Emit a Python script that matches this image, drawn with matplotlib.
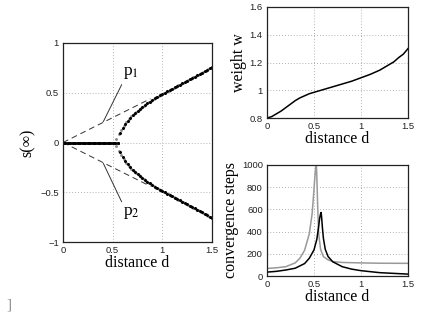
import matplotlib
matplotlib.use("Agg")
import matplotlib.pyplot as plt
import numpy as np

# ---- left panel: bifurcation s(inf) vs distance d ----
d_black = [0.0, 0.025, 0.05, 0.075, 0.1, 0.125, 0.15, 0.175, 0.2, 0.225, 0.25, 0.275,
           0.3, 0.325, 0.35, 0.375, 0.4, 0.425, 0.45, 0.475, 0.5, 0.525, 0.55,
           0.575, 0.6, 0.625, 0.65, 0.675, 0.7, 0.725, 0.75, 0.775, 0.8, 0.825,
           0.85, 0.875, 0.9, 0.925, 0.95, 0.975, 1.0, 1.025, 1.05, 1.075, 1.1,
           1.125, 1.15, 1.175, 1.2, 1.225, 1.25, 1.275, 1.3, 1.325, 1.35, 1.375,
           1.4, 1.425, 1.45, 1.475, 1.5]
s_black = [0.0] * 23 + [0.10, 0.15, 0.19, 0.22, 0.25, 0.275, 0.30, 0.32, 0.34, 0.36,
                        0.38, 0.395, 0.41, 0.43, 0.445, 0.46, 0.475, 0.49, 0.50, 0.515,
                        0.53, 0.54, 0.555, 0.57, 0.58, 0.595, 0.61, 0.62, 0.635, 0.65,
                        0.66, 0.675, 0.69, 0.70, 0.715, 0.73, 0.745, 0.76]
d_gray = [0.0125, 0.0375, 0.0625, 0.0875, 0.1125, 0.1375, 0.1625, 0.1875, 0.2125,
          0.2375, 0.2625, 0.2875, 0.3125, 0.3375, 0.3625, 0.3875, 0.4125, 0.4375,
          0.4625, 0.4875, 0.5125, 0.5375, 0.5625, 0.5875, 0.6125, 0.6375, 0.6625,
          0.6875, 0.7125, 0.7375, 0.7625, 0.7875, 0.8125, 0.8375, 0.8625, 0.8875,
          0.9125, 0.9375, 0.9625, 0.9875, 1.0125, 1.0375, 1.0625, 1.0875, 1.1125,
          1.1375, 1.1625, 1.1875, 1.2125, 1.2375, 1.2625, 1.2875, 1.3125, 1.3375,
          1.3625, 1.3875, 1.4125, 1.4375, 1.4625, 1.4875]
s_gray = [0.0] * 21 + [0.04, 0.09, 0.13, 0.17, 0.205, 0.235, 0.265, 0.29, 0.31, 0.33,
                       0.35, 0.37, 0.39, 0.405, 0.42, 0.435, 0.455, 0.47, 0.48, 0.495,
                       0.51, 0.52, 0.535, 0.55, 0.56, 0.575, 0.59, 0.60, 0.615, 0.63,
                       0.64, 0.655, 0.67, 0.68, 0.695, 0.71, 0.72, 0.735, 0.75]
dash_d = [0.0, 0.88]
dash_s = [0.0, 0.44]

# ---- top right: weight w ----
w_d = [0.0, 0.05, 0.1, 0.15, 0.2, 0.25, 0.3, 0.35, 0.4, 0.45, 0.5, 0.6, 0.7, 0.75,
       0.8, 0.9, 1.0, 1.1, 1.2, 1.25, 1.3, 1.35, 1.4, 1.45, 1.5]
w_val = [0.80, 0.81, 0.83, 0.85, 0.875, 0.90, 0.925, 0.945, 0.96, 0.975, 0.985,
         1.005, 1.025, 1.035, 1.045, 1.065, 1.09, 1.115, 1.145, 1.165, 1.185,
         1.205, 1.235, 1.26, 1.30]

# ---- bottom right: convergence steps ----
c_gray_d = [0.0, 0.1, 0.2, 0.3, 0.35, 0.4, 0.45, 0.48, 0.5, 0.51, 0.52, 0.525, 0.53,
            0.54, 0.55, 0.57, 0.6, 0.65, 0.7, 0.8, 1.0, 1.2, 1.5]
c_gray = [68, 74, 84, 118, 160, 232, 380, 560, 780, 900, 985, 1000, 900, 600, 380,
          240, 175, 145, 130, 122, 118, 115, 114]
c_black_d = [0.0, 0.1, 0.2, 0.3, 0.4, 0.45, 0.5, 0.53, 0.55, 0.56, 0.57, 0.575,
             0.58, 0.59, 0.6, 0.62, 0.65, 0.7, 0.8, 0.9, 1.0, 1.2, 1.5]
c_black = [35, 42, 54, 70, 112, 160, 235, 330, 450, 520, 560, 572, 540, 430, 340,
           240, 175, 128, 84, 62, 48, 30, 17]

serif = ["Liberation Serif", "DejaVu Serif"]
sans = ["Liberation Sans", "DejaVu Sans"]
plt.rcParams["font.family"] = sans
plt.rcParams["mathtext.fontset"] = "stix"

W, H = 424, 317
fig = plt.figure(figsize=(W / 100, H / 100), dpi=100)

tick_fs = 6.8
lab_fs = 11.5


def style(ax):
    ax.grid(True, linestyle=(0, (1, 2.5)), color="#999999", linewidth=0.6)
    ax.tick_params(length=0, labelsize=tick_fs, pad=3, labelcolor="#222222")
    for sp in ax.spines.values():
        sp.set_linewidth(0.9)
        sp.set_color("#222222")
    ax.set_axisbelow(True)


# left
ax1 = fig.add_axes([63 / W, 1 - 242 / H, (212 - 63) / W, (242 - 43) / H])
style(ax1)
ax1.plot(dash_d, dash_s, linestyle=(0, (6, 4)), color="#333333", lw=0.7)
ax1.plot(dash_d, [-v for v in dash_s], linestyle=(0, (6, 4)), color="#333333", lw=0.7)
ax1.plot(d_gray, s_gray, "o", color="#8a8a8a", ms=2.1, mew=0)
ax1.plot(d_gray, [-v for v in s_gray], "o", color="#8a8a8a", ms=2.1, mew=0)
ax1.plot(d_black, s_black, "o", color="black", ms=2.2, mew=0)
ax1.plot(d_black, [-v for v in s_black], "o", color="black", ms=2.2, mew=0)
ax1.plot([0.406, 0.59], [0.21, 0.58], color="#333333", lw=0.7)
ax1.plot([0.406, 0.59], [-0.21, -0.595], color="#333333", lw=0.7)
ax1.text(0.6, 0.7, r"p$_1$", family=serif, fontsize=12.5, ha="left", va="center")
ax1.text(0.6, -0.71, r"p$_2$", family=serif, fontsize=12.5, ha="left", va="center")
ax1.set_xlim(0, 1.5)
ax1.set_ylim(-1, 1)
ax1.set_xticks([0, 0.5, 1, 1.5])
ax1.set_xticklabels(["0", "0.5", "1", "1.5"])
ax1.set_yticks([-1, -0.5, 0, 0.5, 1])
ax1.set_yticklabels(["\u22121", "\u22120.5", "0", "0.5", "1"])
ax1.set_xlabel("distance d", family=serif, fontsize=lab_fs, labelpad=0)
ax1.set_ylabel("s(\u221e)", family=serif, fontsize=lab_fs, labelpad=3)

# top right
ax2 = fig.add_axes([267 / W, 1 - 118 / H, (408 - 267) / W, (118 - 7) / H])
style(ax2)
ax2.plot(w_d, w_val, color="black", lw=1.1)
ax2.set_xlim(0, 1.5)
ax2.set_ylim(0.8, 1.6)
ax2.set_xticks([0, 0.5, 1, 1.5])
ax2.set_xticklabels(["0", "0.5", "1", "1.5"])
ax2.set_yticks([0.8, 1.0, 1.2, 1.4, 1.6])
ax2.set_yticklabels(["0.8", "1", "1.2", "1.4", "1.6"])
ax2.set_xlabel("distance d", family=serif, fontsize=lab_fs, labelpad=0)
ax2.set_ylabel("weight w", family=serif, fontsize=lab_fs, labelpad=2)

# bottom right
ax3 = fig.add_axes([267 / W, 1 - 276 / H, (408 - 267) / W, (276 - 165) / H])
style(ax3)
ax3.plot(c_gray_d, c_gray, color="#999999", lw=1.1)
ax3.plot(c_black_d, c_black, color="black", lw=1.1)
ax3.set_xlim(0, 1.5)
ax3.set_ylim(0, 1000)
ax3.set_xticks([0, 0.5, 1, 1.5])
ax3.set_xticklabels(["0", "0.5", "1", "1.5"])
ax3.set_yticks([0, 200, 400, 600, 800, 1000])
ax3.set_xlabel("distance d", family=serif, fontsize=lab_fs, labelpad=0)
ax3.set_ylabel("convergence steps", family=serif, fontsize=lab_fs, labelpad=2)

fig.text(6 / W, 1 - 305 / H, "]", family=serif, fontsize=11, color="#888888",
         ha="left", va="center")

fig.savefig("out.png", dpi=100)
